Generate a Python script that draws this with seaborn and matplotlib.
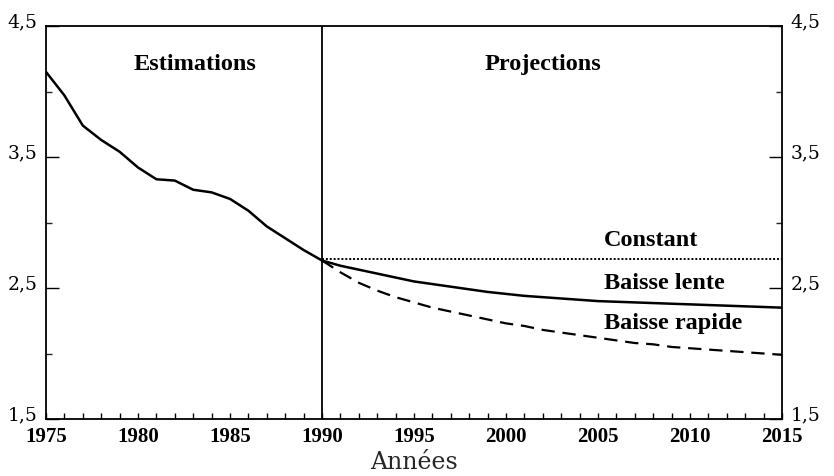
import numpy as np
import pandas as pd
import matplotlib
matplotlib.use("Agg")
import matplotlib.pyplot as plt
import seaborn as sns
from matplotlib.ticker import FixedLocator, MultipleLocator, FuncFormatter

# --- data ---
est_years = list(range(1975, 1991))
est_values = [4.15, 3.97, 3.74, 3.63, 3.54, 3.42, 3.33, 3.32, 3.25, 3.23,
              3.18, 3.09, 2.97, 2.88, 2.79, 2.71]

proj_years = list(range(1990, 2016))
constant = [2.72] * len(proj_years)
baisse_lente = [2.71, 2.67, 2.64, 2.61, 2.58, 2.55, 2.53, 2.51, 2.49, 2.47,
                2.455, 2.44, 2.43, 2.42, 2.41, 2.40, 2.395, 2.39, 2.385, 2.38,
                2.375, 2.37, 2.365, 2.36, 2.355, 2.35]
baisse_rapide = [2.71, 2.62, 2.54, 2.48, 2.43, 2.39, 2.35, 2.32, 2.29, 2.26,
                 2.23, 2.21, 2.18, 2.16, 2.14, 2.12, 2.10, 2.08, 2.07, 2.05,
                 2.04, 2.03, 2.02, 2.01, 2.00, 1.99]

x_ticks = [1975, 1980, 1985, 1990, 1995, 2000, 2005, 2010, 2015]
y_ticks = [1.5, 2.5, 3.5, 4.5]
x_label = "Années"

sns.set_theme(style="white")
plt.rcParams['font.family'] = ['Liberation Serif', 'DejaVu Serif']

fig = plt.figure(figsize=(8.34, 4.77), dpi=100)
ax = fig.add_axes([46/834, 57/477, (782-46)/834, (420-27)/477])

line_kw = dict(solid_joinstyle="round", solid_capstyle="round")
df_est = pd.DataFrame({"year": est_years, "value": est_values})
sns.lineplot(data=df_est, x="year", y="value", ax=ax, color="black", lw=1.8, **line_kw)
sns.lineplot(x=proj_years, y=constant, ax=ax, color="black", lw=1.4, linestyle=(0, (1, 1)))
sns.lineplot(x=proj_years, y=baisse_lente, ax=ax, color="black", lw=1.8, **line_kw)
sns.lineplot(x=proj_years, y=baisse_rapide, ax=ax, color="black", lw=1.6, linestyle=(0, (6, 3.5)))

ax.axvline(1990, color="black", lw=1.3)

ax.set_xlim(1975, 2015)
ax.set_ylim(1.5, 4.5)

for s in ax.spines.values():
    s.set_color("black")
    s.set_linewidth(1.3)
    s.set_visible(True)

ax.xaxis.set_major_locator(FixedLocator(x_ticks))
ax.xaxis.set_minor_locator(MultipleLocator(1))
ax.yaxis.set_major_locator(FixedLocator(y_ticks))
ax.yaxis.set_minor_locator(FixedLocator([2.0, 3.0, 4.0]))
ax.yaxis.set_major_formatter(FuncFormatter(lambda v, p: f"{v:.1f}".replace(".", ",")))

ax.tick_params(axis="x", which="both", direction="in", length=4.5, width=1.0,
               top=False, bottom=True, labelsize=15, pad=5, colors="black")
ax.tick_params(axis="y", which="major", direction="in", length=9.5, width=1.0,
               left=True, right=True, labelleft=True, labelright=True,
               labelsize=14, pad=6, colors="black")
ax.tick_params(axis="y", which="minor", direction="in", length=4, width=1.0,
               left=True, right=True)
for lab in ax.get_xticklabels():
    lab.set_fontweight("bold")
for t in ax.yaxis.get_major_ticks():
    for lab in (t.label1, t.label2):
        lab.set_family("DejaVu Serif")
        lab.set_fontsize(13.5)
        lab.set_verticalalignment("baseline")

ax.set_ylabel("")
ax.set_xlabel(x_label, family="DejaVu Serif", fontsize=17, labelpad=3)

tk = dict(fontweight="bold", fontsize=17.5, color="black")
ax.text(1983.1, 4.21, "Estimations", ha="center", va="center", **tk)
ax.text(2002.0, 4.21, "Projections", ha="center", va="center", **tk)
ax.text(2005.3, 2.87, "Constant", ha="left", va="center", **tk)
ax.text(2005.3, 2.545, "Baisse lente", ha="left", va="center", **tk)
ax.text(2005.3, 2.24, "Baisse rapide", ha="left", va="center", **tk)

fig.savefig("out.png", dpi=100)
